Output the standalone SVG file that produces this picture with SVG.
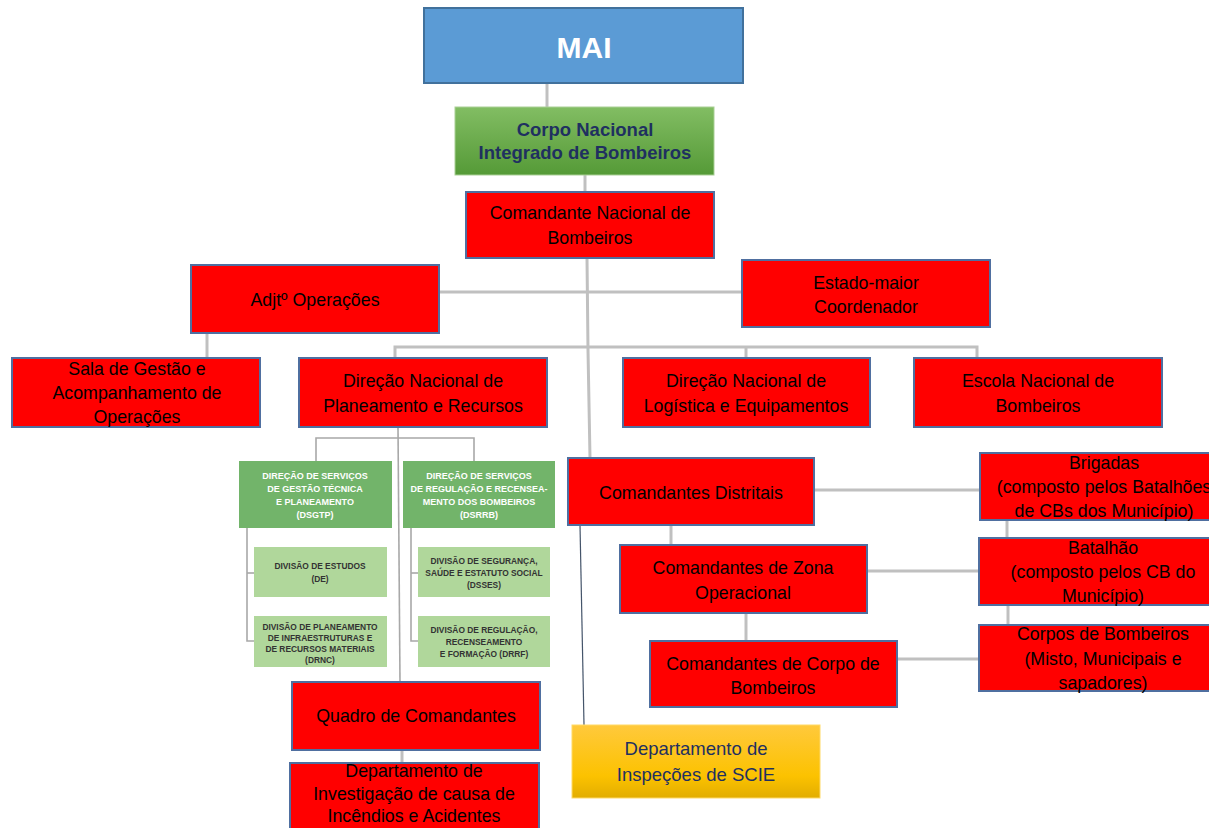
<svg xmlns="http://www.w3.org/2000/svg" width="1209" height="828" viewBox="0 0 1209 828">
<defs>
<linearGradient id="gGreen" x1="0" y1="0" x2="0" y2="1"><stop offset="0" stop-color="#82BD63"/><stop offset="1" stop-color="#559A37"/></linearGradient>
<linearGradient id="gGold" x1="0" y1="0" x2="0" y2="1"><stop offset="0" stop-color="#FFC93C"/><stop offset="0.7" stop-color="#FCC200"/><stop offset="1" stop-color="#E2AD00"/></linearGradient>
</defs>
<style>
.red{fill:#FF0000;stroke:#4F6FA0;stroke-width:2}
.t{font-family:"Liberation Sans",Arial,sans-serif;font-size:17.8px;fill:#000;text-anchor:middle}
.n{font-family:"Liberation Sans",Arial,sans-serif;font-size:18.5px;fill:#1F3060;text-anchor:middle}
.hd{fill:#72B46A}
.lt{fill:#B0D79B}
.ht{font-family:"Liberation Sans",Arial,sans-serif;font-size:9px;font-weight:bold;fill:#fff;text-anchor:middle}
.dt{font-family:"Liberation Sans",Arial,sans-serif;font-size:8.4px;font-weight:bold;fill:#333;text-anchor:middle}
.c{stroke:#C0C0C0;stroke-width:3;fill:none}
.cs{stroke:#A8A8A8;stroke-width:1.6;fill:none}
</style>
<rect width="1209" height="828" fill="#fff"/>
<g id="connectors">
<line class="c" x1="547" y1="83" x2="547" y2="107"/>
<line class="c" x1="585" y1="175" x2="585" y2="192"/>
<polyline class="c" points="587,258 588,350 590,458"/>
<line class="c" x1="439" y1="292" x2="742" y2="292"/>
<line class="c" x1="207" y1="333" x2="207" y2="358"/>
<polyline class="c" points="395,359 395,347 977,347 977,359"/>
<line class="c" x1="746" y1="347" x2="746" y2="359"/>
<polyline class="cs" points="316,461 316,438 474,438 474,461"/>
<line class="cs" x1="398" y1="427" x2="400" y2="682"/>
<polyline class="cs" points="247,528 247,641 254,641"/>
<line class="cs" x1="247" y1="573" x2="254" y2="573"/>
<polyline class="cs" points="411,528 411,641 418,641"/>
<line class="cs" x1="411" y1="573" x2="418" y2="573"/>
<line class="c" x1="402" y1="750" x2="402" y2="763"/>
<line class="c" x1="814" y1="490" x2="980" y2="490"/>
<line class="c" x1="671" y1="525" x2="671" y2="545"/>
<line class="c" x1="746" y1="613" x2="746" y2="641"/>
<line class="c" x1="867" y1="571" x2="979" y2="571"/>
<line class="c" x1="897" y1="659" x2="979" y2="659"/>
<line class="c" x1="1007" y1="520" x2="1007" y2="538"/>
<line class="c" x1="1008" y1="605" x2="1008" y2="625"/>
<line x1="580" y1="525" x2="584" y2="725" stroke="#44546A" stroke-width="1.2"/>
</g>
<g id="mai">
<rect x="424" y="8" width="319" height="75" fill="#5B9BD5" stroke="#41719C" stroke-width="2"/>
<text x="584" y="58" font-family="Liberation Sans,Arial,sans-serif" font-size="30" font-weight="bold" fill="#fff" text-anchor="middle">MAI</text>
</g>
<g id="cnib">
<rect x="455" y="107" width="259" height="68" fill="url(#gGreen)" stroke="#A9CF95" stroke-width="1"/>
<text class="n" x="585" y="136" font-weight="bold">Corpo Nacional</text>
<text class="n" x="585" y="159" font-weight="bold">Integrado de Bombeiros</text>
</g>
<g id="cmdnac">
<rect class="red" x="466" y="192" width="248" height="66"/>
<text class="t" x="590" y="219">Comandante Nacional de</text>
<text class="t" x="590" y="244">Bombeiros</text>
</g>
<g id="adjt">
<rect class="red" x="191" y="265" width="248" height="68"/>
<text class="t" x="315" y="306">Adjtº Operações</text>
</g>
<g id="estado">
<rect class="red" x="742" y="260" width="248" height="67"/>
<text class="t" x="866" y="289">Estado-maior</text>
<text class="t" x="866" y="313">Coordenador</text>
</g>
<g id="sala">
<rect class="red" x="12" y="358" width="248" height="69"/>
<text class="t" x="137" y="375">Sala de Gestão e</text>
<text class="t" x="137" y="399">Acompanhamento de</text>
<text class="t" x="137" y="423">Operações</text>
</g>
<g id="dnpr">
<rect class="red" x="299" y="358" width="248" height="69"/>
<text class="t" x="423" y="387">Direção Nacional de</text>
<text class="t" x="423" y="412">Planeamento e Recursos</text>
</g>
<g id="dnle">
<rect class="red" x="623" y="358" width="247" height="69"/>
<text class="t" x="746" y="387">Direção Nacional de</text>
<text class="t" x="746" y="412">Logística e Equipamentos</text>
</g>
<g id="enb">
<rect class="red" x="914" y="358" width="248" height="69"/>
<text class="t" x="1038" y="387">Escola Nacional de</text>
<text class="t" x="1038" y="412">Bombeiros</text>
</g>
<g id="dsgtp">
<rect class="hd" x="239" y="461" width="153" height="67"/>
<text class="ht" x="315" y="479">DIREÇÃO DE SERVIÇOS</text>
<text class="ht" x="315" y="492">DE GESTÃO TÉCNICA</text>
<text class="ht" x="315" y="505">E PLANEAMENTO</text>
<text class="ht" x="315" y="518">(DSGTP)</text>
</g>
<g id="dsrrb">
<rect class="hd" x="403" y="461" width="152" height="67"/>
<text class="ht" x="479" y="479">DIREÇÃO DE SERVIÇOS</text>
<text class="ht" x="479" y="492">DE REGULAÇÃO E RECENSEA-</text>
<text class="ht" x="479" y="505">MENTO DOS BOMBEIROS</text>
<text class="ht" x="479" y="518">(DSRRB)</text>
</g>
<g id="de">
<rect class="lt" x="254" y="547" width="133" height="50"/>
<text class="dt" x="320" y="569">DIVISÃO DE ESTUDOS</text>
<text class="dt" x="320" y="582">(DE)</text>
</g>
<g id="drnc">
<rect class="lt" x="254" y="616" width="133" height="51"/>
<text class="dt" x="320" y="630">DIVISÃO DE PLANEAMENTO</text>
<text class="dt" x="320" y="641">DE INFRAESTRUTURAS E</text>
<text class="dt" x="320" y="652">DE RECURSOS MATERIAIS</text>
<text class="dt" x="320" y="663">(DRNC)</text>
</g>
<g id="dsses">
<rect class="lt" x="418" y="547" width="132" height="50"/>
<text class="dt" x="484" y="564">DIVISÃO DE SEGURANÇA,</text>
<text class="dt" x="484" y="576">SAÚDE E ESTATUTO SOCIAL</text>
<text class="dt" x="484" y="588">(DSSES)</text>
</g>
<g id="drrf">
<rect class="lt" x="418" y="616" width="132" height="51"/>
<text class="dt" x="484" y="633">DIVISÃO DE REGULAÇÃO,</text>
<text class="dt" x="484" y="645">RECENSEAMENTO</text>
<text class="dt" x="484" y="657">E FORMAÇÃO (DRRF)</text>
</g>
<g id="quadro">
<rect class="red" x="292" y="682" width="248" height="68"/>
<text class="t" x="416" y="722">Quadro de Comandantes</text>
</g>
<g id="dicia">
<rect class="red" x="290" y="763" width="249" height="72"/>
<text class="t" x="414" y="777">Departamento de</text>
<text class="t" x="414" y="800">Investigação de causa de</text>
<text class="t" x="414" y="822">Incêndios e Acidentes</text>
</g>
<g id="distritais">
<rect class="red" x="568" y="458" width="246" height="67"/>
<text class="t" x="691" y="499">Comandantes Distritais</text>
</g>
<g id="zona">
<rect class="red" x="620" y="545" width="247" height="68"/>
<text class="t" x="743" y="574">Comandantes de Zona</text>
<text class="t" x="743" y="599">Operacional</text>
</g>
<g id="corpo">
<rect class="red" x="650" y="641" width="247" height="66"/>
<text class="t" x="773" y="670">Comandantes de Corpo de</text>
<text class="t" x="773" y="694">Bombeiros</text>
</g>
<g id="brigadas">
<rect class="red" x="980" y="453" width="235" height="67"/>
<text class="t" x="1104" y="469">Brigadas</text>
<text class="t" x="1104" y="493">(composto pelos Batalhões</text>
<text class="t" x="1104" y="517">de CBs dos Município)</text>
</g>
<g id="batalhao">
<rect class="red" x="979" y="538" width="236" height="67"/>
<text class="t" x="1103" y="554">Batalhão</text>
<text class="t" x="1103" y="578">(composto pelos CB do</text>
<text class="t" x="1103" y="602">Município)</text>
</g>
<g id="corpos">
<rect class="red" x="979" y="625" width="236" height="66"/>
<text class="t" x="1103" y="640">Corpos de Bombeiros</text>
<text class="t" x="1103" y="665">(Misto, Municipais e</text>
<text class="t" x="1103" y="689">sapadores)</text>
</g>
<g id="scie">
<rect x="572" y="725" width="248" height="73" fill="url(#gGold)" stroke="#FFD966" stroke-width="1"/>
<text class="n" x="696" y="755">Departamento de</text>
<text class="n" x="696" y="781">Inspeções de SCIE</text>
</g>
</svg>
